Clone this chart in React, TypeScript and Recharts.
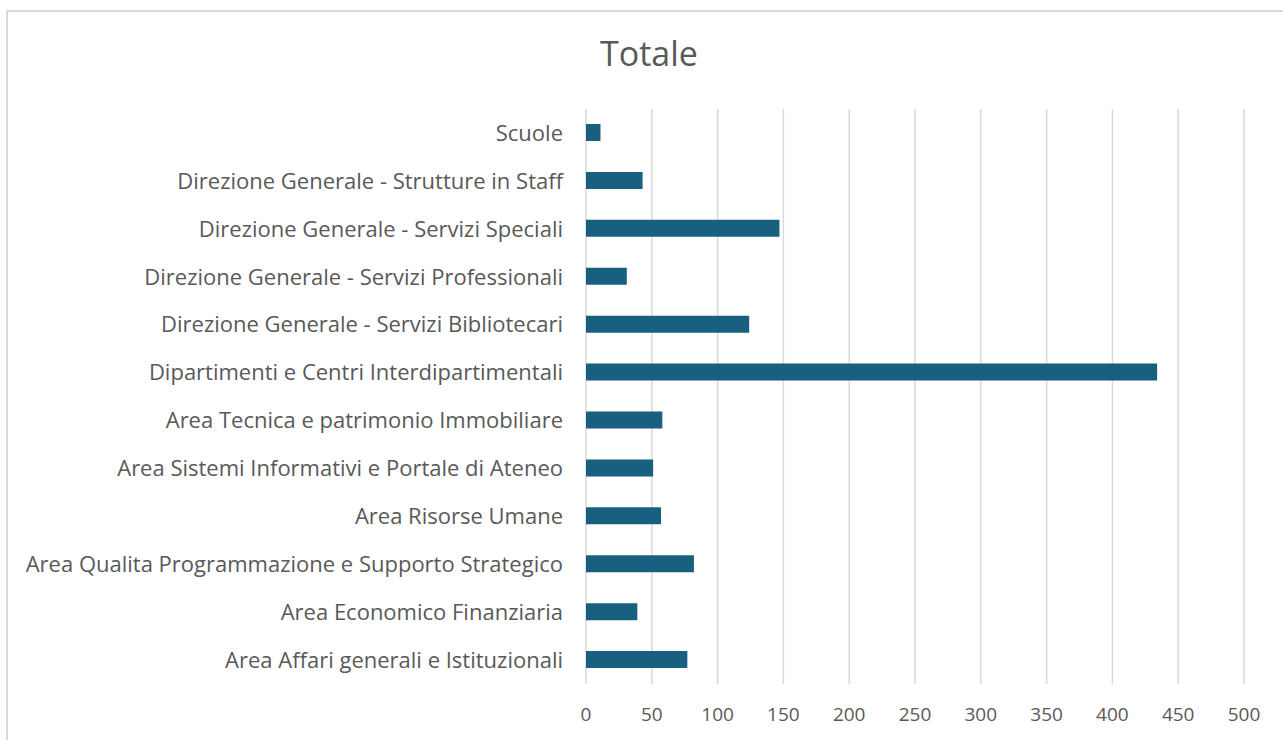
import { BarChart, Bar, XAxis, YAxis, CartesianGrid } from "recharts";

const categories = [
  "Scuole",
  "Direzione Generale - Strutture in Staff",
  "Direzione Generale - Servizi Speciali",
  "Direzione Generale - Servizi Professionali",
  "Direzione Generale - Servizi Bibliotecari",
  "Dipartimenti e Centri Interdipartimentali",
  "Area Tecnica e patrimonio Immobiliare",
  "Area Sistemi Informativi e Portale di Ateneo",
  "Area Risorse Umane",
  "Area Qualita Programmazione e Supporto Strategico",
  "Area Economico Finanziaria",
  "Area Affari generali e Istituzionali",
];

const totals = [11, 43, 147, 31, 124, 434, 58, 51, 57, 82, 39, 77];

const xTicks = [0, 50, 100, 150, 200, 250, 300, 350, 400, 450, 500];

const FONT = "'Open Sans', 'Noto Sans', sans-serif";
const TEXT = "#595959";

export default function App() {
  const data = categories.map((name, i) => ({ name, totale: totals[i] }));

  return (
    <div style={{ position: "absolute", left: 0, top: 0, width: 1283, height: 740, overflow: "hidden", background: "#fff", fontFamily: FONT }}>
      <div
        style={{
          position: "absolute",
          left: 6,
          top: 10,
          width: 1400,
          height: 800,
          border: "2px solid #d9d9d9",
        }}
      />
      <div
        style={{
          position: "absolute",
          left: 0,
          top: 31,
          width: 1298,
          textAlign: "center",
          fontSize: 34,
          color: TEXT,
          lineHeight: "44px",
        }}
      >
        Totale
      </div>
      <div style={{ position: "absolute", left: 0, top: 0 }}>
        <BarChart
          width={1283}
          height={740}
          data={data}
          layout="vertical"
          margin={{ top: 109, right: 39, bottom: 0, left: 0 }}
          barCategoryGap={0}
        >
          <CartesianGrid horizontal={false} vertical stroke="#d9d9d9" strokeWidth={1.5} />
          <XAxis
            type="number"
            domain={[0, 500]}
            ticks={xTicks}
            interval={0}
            axisLine={false}
            tickLine={false}
            height={56}
            tickMargin={18}
            tick={{ fontSize: 19, fill: TEXT, fontFamily: FONT }}
          />
          <YAxis
            type="category"
            dataKey="name"
            width={586}
            axisLine={false}
            tickLine={false}
            tickSize={0}
            tickMargin={23}
            interval={0}
            tick={{ fontSize: 22, fill: TEXT, fontFamily: FONT }}
          />
          <Bar dataKey="totale" fill="#185f80" barSize={17} isAnimationActive={false} />
        </BarChart>
      </div>
    </div>
  );
}
